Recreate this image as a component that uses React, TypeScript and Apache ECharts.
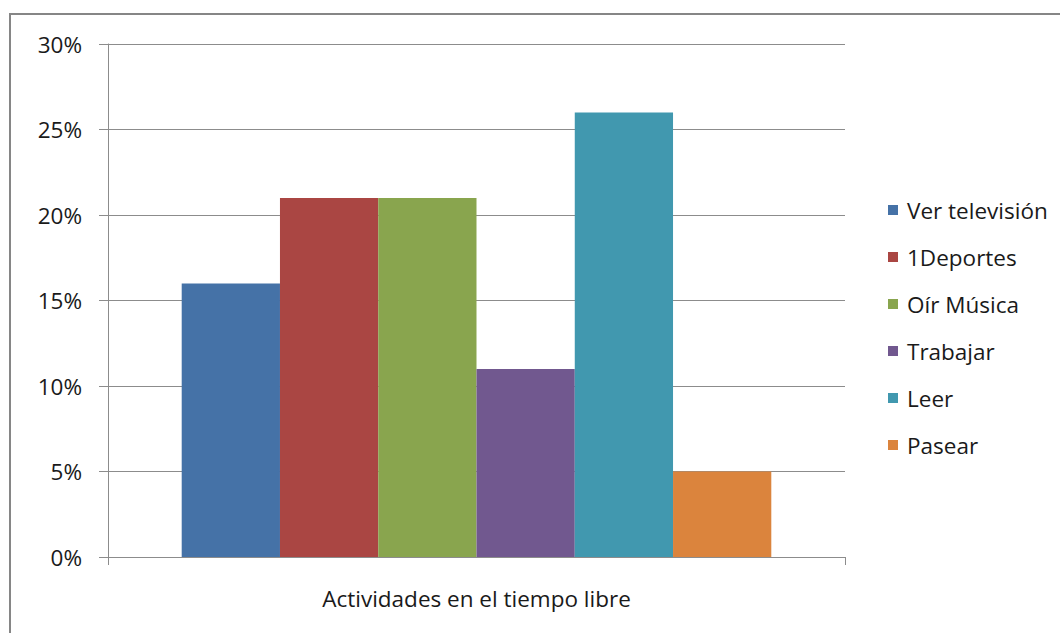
import React, { useEffect, useRef } from "react";
import * as echarts from "echarts";

const categories = ["Actividades en el tiempo libre"];
const seriesNames = ["Ver televisión", "1Deportes", "Oír Música", "Trabajar", "Leer", "Pasear"];
const seriesValues = [16, 21, 21, 11, 26, 5];
const seriesColors = ["#4572A7", "#AA4643", "#89A54E", "#71588F", "#4198AF", "#DB843D"];
const yTicks = { min: 0, max: 30, interval: 5 };

const FONT = "Open Sans";
const FS = 22.5;

export default function App() {
  const ref = useRef<HTMLDivElement>(null);
  useEffect(() => {
    if (!ref.current) return;
    const chart = echarts.init(ref.current, null, { renderer: "svg" });
    chart.setOption({
      animation: false,
      backgroundColor: "#ffffff",
      textStyle: { fontFamily: FONT },
      graphic: [
        {
          type: "rect",
          shape: { x: 10, y: 14, width: 1100, height: 700 },
          style: { fill: "none", stroke: "#868686", lineWidth: 2 },
          silent: true,
          z: -10,
        },
      ],
      grid: { left: 108, right: 215, top: 44, bottom: 76, containLabel: false },
      legend: {
        orient: "vertical",
        left: 883,
        top: 193,
        itemWidth: 10,
        itemHeight: 10,
        itemGap: 23,
        icon: "rect",
        textStyle: { fontFamily: FONT, fontSize: FS, color: "#1a1a1a", lineHeight: 24, padding: [0, 0, 0, 4] },
        data: seriesNames,
      },
      xAxis: {
        type: "category",
        data: categories,
        axisLine: { show: true, lineStyle: { color: "#8c8c8c", width: 1 } },
        axisTick: { show: true, length: 8, lineStyle: { color: "#8c8c8c" } },
        axisLabel: { margin: 30, fontFamily: FONT, fontSize: FS, color: "#1a1a1a" },
      },
      yAxis: {
        type: "value",
        min: yTicks.min,
        max: yTicks.max,
        interval: yTicks.interval,
        axisLine: { show: true, lineStyle: { color: "#8c8c8c", width: 1 } },
        axisTick: { show: true, length: 9, lineStyle: { color: "#8c8c8c" } },
        axisLabel: { margin: 26, fontFamily: FONT, fontSize: FS, color: "#1a1a1a", formatter: "{value}%" },
        splitLine: { show: true, lineStyle: { color: "#8c8c8c", width: 1 } },
      },
      series: seriesNames.map((name, i) => ({
        name,
        type: "bar",
        data: [seriesValues[i]],
        barGap: "0%",
        barCategoryGap: "20%",
        itemStyle: { color: seriesColors[i] },
      })),
    });
    return () => chart.dispose();
  }, []);
  return <div ref={ref} style={{ position: "absolute", left: 0, top: 0, width: 1060, height: 633 }} />;
}
